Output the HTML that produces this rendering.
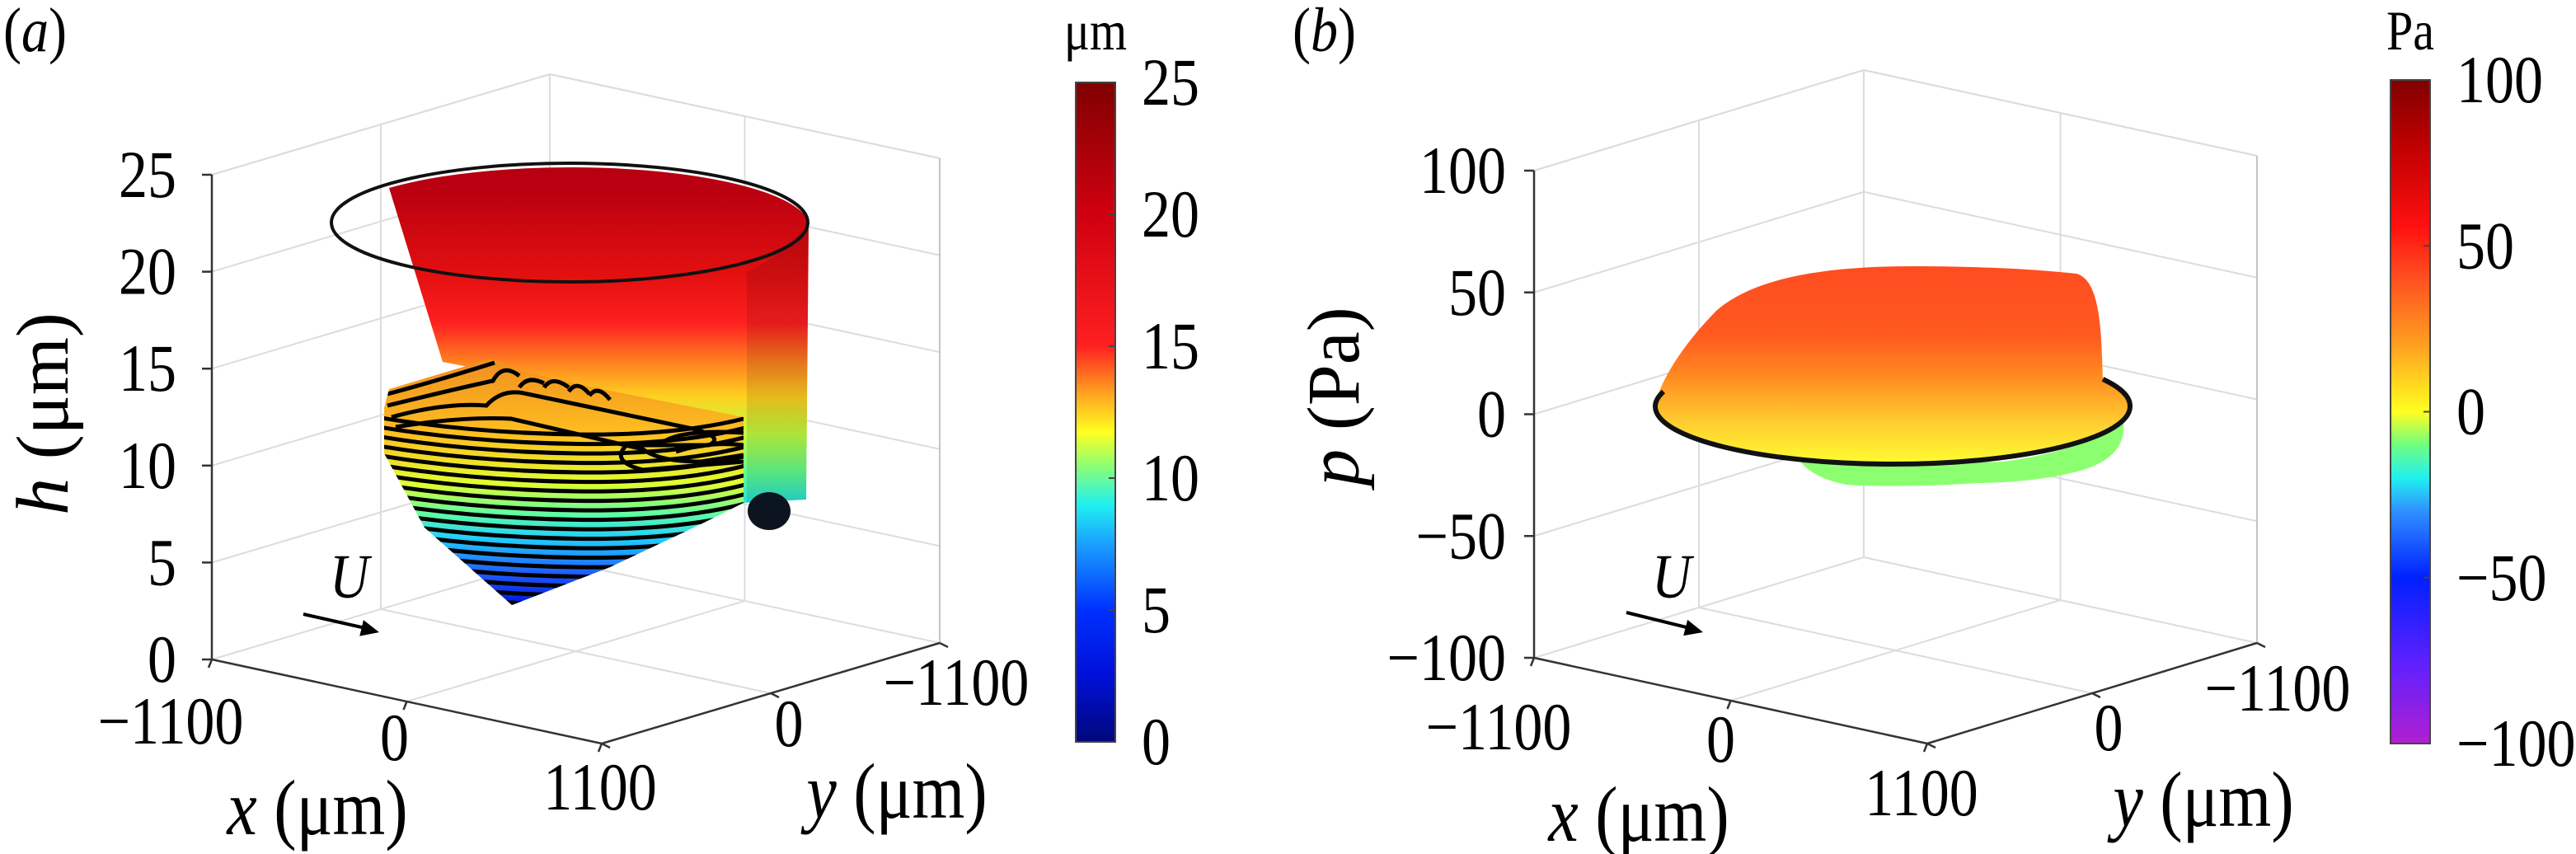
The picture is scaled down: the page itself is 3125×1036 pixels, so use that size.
<!DOCTYPE html>
<html><head><meta charset="utf-8"><style>
html,body{margin:0;padding:0;background:#fff;}
svg, svg text{font-family:"Liberation Serif","Times New Roman",serif;}
svg{display:block;}
</style></head><body>
<svg id="fig" width="3125" height="1036" viewBox="0 0 3125 1036" xmlns="http://www.w3.org/2000/svg" font-family="Liberation Serif, serif">
<defs>
<linearGradient id="cbA" x1="0" y1="1" x2="0" y2="0">
<stop offset="0" stop-color="#00087a"/><stop offset="0.1" stop-color="#0010d8"/><stop offset="0.2" stop-color="#0030ff"/>
<stop offset="0.3" stop-color="#1aa0ff"/><stop offset="0.36" stop-color="#20f0f0"/><stop offset="0.42" stop-color="#90ff70"/>
<stop offset="0.47" stop-color="#ffff20"/><stop offset="0.53" stop-color="#ffa020"/><stop offset="0.6" stop-color="#ff2020"/>
<stop offset="0.8" stop-color="#d00010"/><stop offset="1" stop-color="#800000"/></linearGradient>
<linearGradient id="cbB" x1="0" y1="1" x2="0" y2="0">
<stop offset="0" stop-color="#b020d0"/><stop offset="0.12" stop-color="#6020ff"/><stop offset="0.25" stop-color="#0020ff"/>
<stop offset="0.35" stop-color="#3090ff"/><stop offset="0.4" stop-color="#20f0f0"/><stop offset="0.45" stop-color="#70ff80"/>
<stop offset="0.5" stop-color="#ffff20"/><stop offset="0.6" stop-color="#ffa020"/><stop offset="0.7" stop-color="#ff5020"/>
<stop offset="0.78" stop-color="#ff1010"/><stop offset="0.9" stop-color="#c00000"/><stop offset="1" stop-color="#800000"/></linearGradient>
<linearGradient id="sheetG" x1="0" y1="227" x2="0" y2="612" gradientUnits="userSpaceOnUse">
<stop offset="0" stop-color="#b80010"/><stop offset="0.28" stop-color="#e41010"/><stop offset="0.43" stop-color="#ff2020"/>
<stop offset="0.55" stop-color="#ff8020"/><stop offset="0.66" stop-color="#ffd020"/><stop offset="0.78" stop-color="#c0ff40"/>
<stop offset="0.9" stop-color="#60ff90"/><stop offset="1" stop-color="#20e0e0"/></linearGradient>
<linearGradient id="blobG" x1="0" y1="440" x2="0" y2="735" gradientUnits="userSpaceOnUse">
<stop offset="0" stop-color="#f09020"/><stop offset="0.3" stop-color="#ffc020"/><stop offset="0.5" stop-color="#e0ff30"/>
<stop offset="0.62" stop-color="#60ffa0"/><stop offset="0.72" stop-color="#20d0ff"/><stop offset="0.86" stop-color="#2060ff"/>
<stop offset="1" stop-color="#0010e0"/></linearGradient>
<linearGradient id="domeG" x1="0" y1="323" x2="0" y2="565" gradientUnits="userSpaceOnUse">
<stop offset="0" stop-color="#ff4c20"/><stop offset="0.35" stop-color="#ff5a20"/><stop offset="0.55" stop-color="#ff8a20"/>
<stop offset="0.78" stop-color="#ffcc30"/><stop offset="1" stop-color="#ffff30"/></linearGradient>
<clipPath id="blobClip"><path d="M472,472 L596,435 L640,452 L720,470 L902,506 L902,610 L850,636 L740,688 L621,734 L515,640 L466,550 L466,495 Z"/></clipPath>
</defs>
<g id="panelA"></g>
<g id="panelB"></g>
</svg>
<script>
// ---- data ----
const zTicksA = [0, 5, 10, 15, 20, 25];
const zTicksB = [-100, -50, 0, 50, 100];
const xTicks = [-1100, 0, 1100];
const yTicks = [1100, 0, -1100];
const xTickLabels = ["\u22121100", "0", "1100"];
const yTickLabels = ["", "0", "\u22121100"];
const cbTicksA = [0, 5, 10, 15, 20, 25];
const cbTicksB = [-100, -50, 0, 50, 100];

const NS = "http://www.w3.org/2000/svg";
const SY = 1.16;
function mk(parent, tag, attrs, text){
  const e = document.createElementNS(NS, tag);
  for (const k in attrs) e.setAttribute(k, attrs[k]);
  if (tag === "text") e.setAttribute("font-family", "Liberation Serif, serif");
  if (text !== undefined) e.textContent = text;
  parent.appendChild(e); return e;
}
function stretch(t){
  const x = t.getAttribute("x"), y = t.getAttribute("y");
  t.setAttribute("x", 0); t.setAttribute("y", 0);
  t.setAttribute("transform", `translate(${x},${y}) scale(1,${SY})`);
  return t;
}
function makeProj(L, F, R, zmin, zmax, H){
  return function(x, y, z){
    const u = (x + 1100) / 2200, v = (1100 - y) / 2200, w = (z - zmin) / (zmax - zmin);
    return [L[0] + u*(F[0]-L[0]) + v*(R[0]-F[0]), L[1] + u*(F[1]-L[1]) + v*(R[1]-F[1]) - w*H];
  };
}
function line(g, p, q, stroke, sw, name){
  const e = mk(g, "line", {x1:p[0], y1:p[1], x2:q[0], y2:q[1], stroke:stroke, "stroke-width":sw});
  
  
  return e;
}
function drawAxes(g, P, zTicks, zmin, zmax, zLabelEnd, xOff, yOff){
  const grid = "#dcdcdc";
  zTicks.forEach(z => {
    line(g, P(-1100, 1100, z), P(-1100, -1100, z), grid, 2, 'z-gridline');
    line(g, P(-1100, -1100, z), P(1100, -1100, z), grid, 2, 'z-gridline');
  });
  line(g, P(-1100, 1100, zmax), P(-1100, -1100, zmax), grid, 2, 'box-edge');
  line(g, P(-1100, -1100, zmax), P(1100, -1100, zmax), grid, 2, 'box-edge');
  line(g, P(-1100, -1100, zmin), P(-1100, -1100, zmax), grid, 2, 'box-edge');
  line(g, P(1100, -1100, zmin), P(1100, -1100, zmax), "#c4c4c4", 2, 'box-edge');
  line(g, P(-1100, 0, zmin), P(-1100, 0, zmax), grid, 2, 'y-gridline-wall');
  line(g, P(0, -1100, zmin), P(0, -1100, zmax), grid, 2, 'x-gridline-wall');
  line(g, P(0, 1100, zmin), P(0, -1100, zmin), grid, 2, 'x-gridline-floor');
  line(g, P(-1100, 0, zmin), P(1100, 0, zmin), grid, 2, 'y-gridline-floor');
  line(g, P(-1100, 1100, zmin), P(-1100, 1100, zmax), "#333", 2.5, 'z-axis-line');
  line(g, P(-1100, 1100, zmin), P(1100, 1100, zmin), "#333", 2.5, 'x-axis-line');
  line(g, P(1100, 1100, zmin), P(1100, -1100, zmin), "#333", 2.5, 'y-axis-line');
  zTicks.forEach(z => {
    const p = P(-1100, 1100, z);
    line(g, p, [p[0]-12, p[1]], "#333", 2.5, 'z-tick');
    const t = mk(g, "text", {x: zLabelEnd, y: p[1]+27, "font-size":70, "text-anchor":"end", fill:"#000"}, (z<0?"\u2212"+(-z):String(z)));
    
    
    stretch(t);
  });
  xTicks.forEach((x, i) => {
    const p = P(x, 1100, zmin);
    line(g, p, [p[0]-4, p[1]+10], "#333", 2.5, 'x-tick');
    const t = mk(g, "text", {x: p[0]+xOff[i][0], y: p[1]+xOff[i][1]+27, "font-size":70, "text-anchor":"middle", fill:"#000"}, xTickLabels[i]);
    
    
    stretch(t);
  });
  yTicks.forEach((y, i) => {
    const p = P(1100, y, zmin);
    line(g, p, [p[0]+10, p[1]+5], "#333", 2.5, 'y-tick');
    if (!yTickLabels[i]) return;
    const t = mk(g, "text", {x: p[0]+yOff[i][0], y: p[1]+yOff[i][1]+27, "font-size":70, "text-anchor":"middle", fill:"#000"}, yTickLabels[i]);
    
    
    stretch(t);
  });
}
function drawColorbar(g, x, top, bot, ticks, grad, unit, labelX){
  const r = mk(g, "rect", {x:x, y:top, width:48, height:bot-top, fill:"url(#"+grad+")", stroke:"#444", "stroke-width":2});
  
  
  const mn = ticks[0], mx = ticks[ticks.length-1];
  ticks.forEach(v => {
    const y = bot - (v-mn)/(mx-mn)*(bot-top);
    line(g, [x+40, y], [x+48, y], "#444", 2, 'colorbar-tick');
    const t = mk(g, "text", {x: labelX, y: y+27, "font-size":70, fill:"#000"}, (v<0?"\u2212"+(-v):String(v)));
    
    
    stretch(t);
  });
  const u = mk(g, "text", {x: x+24, y: 60, "font-size":58, "text-anchor":"middle", fill:"#000"}, unit);
  
  
  stretch(u);
}
function txt(g, attrs, content, name){
  const t = mk(g, "text", attrs);
  t.innerHTML = content;
  
  
  return t;
}
function arrow(g, x1, y1, x2, y2){
  line(g, [x1,y1], [x2-8,y2-3], "#000", 4, 'flow-arrow-shaft');
  const ang = Math.atan2(y2-y1, x2-x1);
  const a = 22, w = 10;
  const p1 = [x2 - a*Math.cos(ang) + w*Math.sin(ang), y2 - a*Math.sin(ang) - w*Math.cos(ang)];
  const p2 = [x2 - a*Math.cos(ang) - w*Math.sin(ang), y2 - a*Math.sin(ang) + w*Math.cos(ang)];
  const h = mk(g, "polygon", {points: `${x2},${y2} ${p1} ${p2}`, fill:"#000"});
  
  
}

// ---- panel a ----
const gA = document.getElementById("panelA");
const PA = makeProj([257,800], [730,902], [1140,780], 0, 25, 588);
drawAxes(gA, PA, zTicksA, 0, 25, 214, [[-50,75],[-15,44],[-2,53]], [[0,0],[22,37],[20,48]]);
let s = mk(gA, "path", {d:"M472,228 A290,72 0 0 1 981,270 L978,606 L902,610 L902,510 L537,439 Z", fill:"url(#sheetG)"});


s = mk(gA, "path", {d:"M906,330 Q950,310 981,270 L978,606 L906,610 Z", fill:"#000", opacity:0.1});


s = mk(gA, "path", {d:"M472,472 L596,435 L640,452 L720,470 L902,506 L902,610 L850,636 L740,688 L621,734 L515,640 L466,550 L466,495 Z", fill:"url(#blobG)"});


const cg = mk(gA, "g", {"clip-path":"url(#blobClip)", fill:"none", stroke:"#000", "stroke-width":5});


for (let y = 525; y < 745; y += 11.5) {
  const c = mk(cg, "path", {d:`M440,${y-22} Q560,${y} 700,${y+2} T930,${y-25}`});
  
  
}
["M470,478 Q530,462 600,440","M470,492 Q560,470 598,462 Q610,440 630,456",
 "M475,506 Q540,488 590,492 Q610,470 640,478 L840,520 Q880,530 860,540 L760,540 Q740,560 780,570 L902,560",
 "M480,518 Q560,505 620,508 L780,545 Q800,560 850,560 L902,552",
 "M630,470 Q640,455 660,465 M660,470 Q670,455 690,470 M690,475 Q700,460 715,478 M715,480 Q725,466 740,485",
 "M800,540 Q820,520 902,525 M820,548 Q860,535 902,540"].forEach(d=>{
  const c = mk(cg, "path", {d:d});
  
  
});
s = mk(gA, "ellipse", {cx:933, cy:620, rx:26, ry:23, fill:"#0c1420"});


s = mk(gA, "ellipse", {cx:691, cy:270, rx:289, ry:72, fill:"none", stroke:"#111", "stroke-width":4});


arrow(gA, 368, 745, 460, 767);
stretch(txt(gA, {x:400, y:725, "font-size":66, "font-style":"italic"}, "U", 'flow-label'));
stretch(txt(gA, {x:4, y:62, "font-size":66}, "(<tspan font-style='italic'>a</tspan>)", 'panel-label-a'));
stretch(txt(gA, {x:385, y:1012, "font-size":82, "text-anchor":"middle"}, "<tspan font-style='italic'>x</tspan> (μm)", 'x-axis-title'));
stretch(txt(gA, {x:1088, y:992, "font-size":82, "text-anchor":"middle"}, "<tspan font-style='italic'>y</tspan> (μm)", 'y-axis-title'));
txt(gA, {x:0, y:0, "font-size":90, "text-anchor":"middle", transform:"translate(82,502) rotate(-90)"}, "<tspan font-style='italic'>h</tspan> (μm)", 'z-axis-title');
drawColorbar(gA, 1305, 100, 900, cbTicksA, "cbA", "μm", 1385);

// ---- panel b ----
const gB = document.getElementById("panelB");
const PB = makeProj([1861,798], [2338,902], [2738,780], -100, 100, 591);
drawAxes(gB, PB, zTicksB, -100, 100, 1827, [[-43,84],[-12,47],[-7,60]], [[0,0],[20,42],[25,55]]);
s = mk(gB, "path", {d:"M2184,545 Q2300,566 2430,560 Q2540,545 2575,505 Q2585,555 2520,572 Q2470,585 2400,586 Q2300,592 2240,588 Q2200,580 2184,560 Z", fill:"#8cff70"});


s = mk(gB, "path", {d:"M2008,493 C2012,465 2040,420 2082,377 C2130,335 2220,323 2320,323 C2420,323 2480,328 2519,332 C2548,340 2549,400 2551,460 A288,70 0 0 1 2584,493 A288,70 0 0 1 2008,493 Z", fill:"url(#domeG)"});


s = mk(gB, "path", {d:"M2551,460 A288,70 0 0 1 2584,493 A288,70 0 0 1 2008,493 A288,70 0 0 1 2018,475", fill:"none", stroke:"#111", "stroke-width":6});


arrow(gB, 1973, 743, 2066, 767);
stretch(txt(gB, {x:2004, y:725, "font-size":66, "font-style":"italic"}, "U", 'flow-label'));
stretch(txt(gB, {x:1568, y:62, "font-size":66}, "(<tspan font-style='italic'>b</tspan>)", 'panel-label-b'));
stretch(txt(gB, {x:1988, y:1020, "font-size":82, "text-anchor":"middle"}, "<tspan font-style='italic'>x</tspan> (μm)", 'x-axis-title'));
stretch(txt(gB, {x:2673, y:1002, "font-size":82, "text-anchor":"middle"}, "<tspan font-style='italic'>y</tspan> (μm)", 'y-axis-title'));
txt(gB, {x:0, y:0, "font-size":90, "text-anchor":"middle", transform:"translate(1648,481) rotate(-90)"}, "<tspan font-style='italic'>p</tspan> (Pa)", 'z-axis-title');
drawColorbar(gB, 2900, 97, 902, cbTicksB, "cbB", "Pa", 2980);
</script>
</body></html>
